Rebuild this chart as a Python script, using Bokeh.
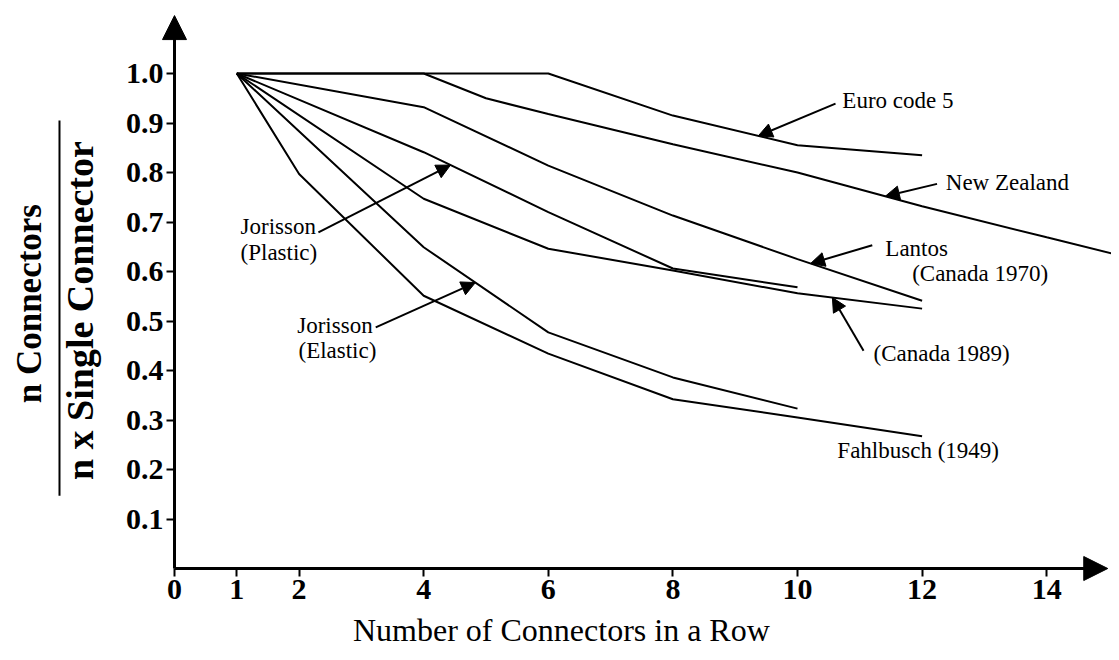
import numpy as np
from bokeh.plotting import figure
from bokeh.models import Range1d, FixedTicker, Label, Arrow, NormalHead, NumeralTickFormatter
from bokeh.embed import file_html
from bokeh.resources import INLINE

# ---------------- data ----------------
euro_x = [1, 6, 8, 10, 12]
euro_y = [1.0, 1.0, 0.915, 0.855, 0.835]

nz_x = [1, 4, 5, 6, 8, 10, 12, 14, 15.15]
nz_y = [1.0, 1.0, 0.95, 0.918, 0.857, 0.80, 0.732, 0.669, 0.633]

lantos_x = [1, 4, 6, 8, 10, 12]
lantos_y = [1.0, 0.932, 0.814, 0.713, 0.625, 0.541]

can89_x = [1, 4, 6, 8, 10, 12]
can89_y = [1.0, 0.747, 0.646, 0.602, 0.556, 0.525]

jplastic_x = [1, 4, 6, 8, 10]
jplastic_y = [1.0, 0.841, 0.72, 0.606, 0.568]

jelastic_x = [1, 4, 6, 8, 10]
jelastic_y = [1.0, 0.649, 0.477, 0.386, 0.323]

fahl_x = [1, 2, 4, 6, 8, 10, 12]
fahl_y = [1.0, 0.797, 0.551, 0.434, 0.342, 0.305, 0.267]

x_ticks = [0, 1, 2, 4, 6, 8, 10, 12, 14]
y_ticks = [0.1, 0.2, 0.3, 0.4, 0.5, 0.6, 0.7, 0.8, 0.9, 1.0]

x_title = "Number of Connectors in a Row"
y_title_top = "n Connectors"
y_title_bottom = "n x Single Connector"

SERIF = "Liberation Serif"

# ---------------- figure (frame fills the canvas; axes pinned at 0) ----------------
PX_X = 62.3    # pixels per connector
PX_Y = 495.0   # pixels per unit ratio
W, H = 1111, 652
X0, Y0 = 174, 568   # pixel position of the origin
p = figure(width=W, height=H,
           x_range=Range1d(-X0 / PX_X, (W - X0) / PX_X),
           y_range=Range1d(-(H - Y0) / PX_Y, Y0 / PX_Y),
           output_backend="svg", toolbar_location=None, title=None,
           min_border_left=0, min_border_right=0, min_border_top=0, min_border_bottom=0)
p.outline_line_color = None
p.xgrid.visible = False
p.ygrid.visible = False
p.background_fill_color = "white"
p.border_fill_color = "white"

for ax in (p.xaxis[0], p.yaxis[0]):
    ax.fixed_location = 0
    ax.axis_line_width = 3
    ax.axis_line_color = "black"
    ax.major_tick_out = 8
    ax.major_tick_in = 0
    ax.major_tick_line_width = 2
    ax.minor_tick_out = 0
    ax.minor_tick_in = 0
    ax.major_label_text_font = SERIF
    ax.major_label_text_font_style = "bold"
    ax.major_label_text_font_size = "30px"
    ax.major_label_text_color = "black"

p.xaxis[0].ticker = FixedTicker(ticks=x_ticks)
p.yaxis[0].ticker = FixedTicker(ticks=y_ticks)
p.xaxis[0].bounds = (0, 14.9)
p.yaxis[0].bounds = (0, 1.10)
p.yaxis[0].formatter = NumeralTickFormatter(format="0.0")
p.xaxis[0].major_label_standoff = 3
p.yaxis[0].major_label_standoff = 3

# ---------------- series ----------------
series = [(euro_x, euro_y), (nz_x, nz_y), (lantos_x, lantos_y), (can89_x, can89_y),
          (jplastic_x, jplastic_y), (jelastic_x, jelastic_y), (fahl_x, fahl_y)]
for xs, ys in series:
    p.line(xs, ys, line_color="black", line_width=2)

# ---------------- axis arrows ----------------
p.add_layout(Arrow(end=NormalHead(size=24, fill_color="black", line_color="black"),
                   x_start=0, y_start=1.0, x_end=0, y_end=1.117,
                   line_color="black", line_width=3))
p.add_layout(Arrow(end=NormalHead(size=24, fill_color="black", line_color="black"),
                   x_start=14.3, y_start=0, x_end=14.98, y_end=0,
                   line_color="black", line_width=3))

# ---------------- annotations ----------------
def lbl(x, y, text, **kw):
    p.add_layout(Label(x=x, y=y, text=text, text_font=SERIF, text_font_size="23px",
                       text_color="black", text_align="left", text_baseline="middle", **kw))

def pointer(x0, y0, tip_x, xs, ys):
    tip_y = float(np.interp(tip_x, xs, ys))
    p.add_layout(Arrow(end=NormalHead(size=14, fill_color="black", line_color="black"),
                       x_start=x0, y_start=y0, x_end=tip_x, y_end=tip_y,
                       line_color="black", line_width=2))

lbl(10.72, 0.945, "Euro code 5")
pointer(10.61, 0.939, 9.37, euro_x, euro_y)

lbl(12.38, 0.780, "New Zealand")
pointer(12.24, 0.777, 11.41, nz_x, nz_y)

lbl(11.41, 0.646, "Lantos")
lbl(11.84, 0.595, "(Canada 1970)")
pointer(11.20, 0.653, 10.21, lantos_x, lantos_y)

lbl(11.22, 0.434, "(Canada 1989)")
pointer(11.06, 0.440, 10.56, can89_x, can89_y)

lbl(10.64, 0.238, "Fahlbusch (1949)")

lbl(1.06, 0.690, "Jorisson")
lbl(1.06, 0.639, "(Plastic)")
pointer(2.31, 0.679, 4.43, jplastic_x, jplastic_y)

lbl(1.97, 0.491, "Jorisson")
lbl(1.99, 0.440, "(Elastic)")
pointer(3.23, 0.487, 4.83, jelastic_x, jelastic_y)

# ---------------- axis titles ----------------
p.add_layout(Label(x=6.21, y=-0.125, text=x_title, text_font=SERIF, text_font_size="32px",
                   text_color="black", text_align="center", text_baseline="middle"))

p.add_layout(Label(x=-2.33, y=0.535, text=y_title_top, text_font=SERIF, text_font_size="35px",
                   text_font_style="bold", text_color="black", angle=np.pi / 2,
                   text_align="center", text_baseline="middle"))
p.add_layout(Label(x=-1.52, y=0.521, text=y_title_bottom, text_font=SERIF, text_font_size="38px",
                   text_font_style="bold", text_color="black", angle=np.pi / 2,
                   text_align="center", text_baseline="middle"))
p.add_layout(Arrow(end=None, start=None, x_start=-1.846, y_start=0.147, x_end=-1.846, y_end=0.905,
                   line_color="black", line_width=2))

open("out.html", "w").write(file_html(p, INLINE))
